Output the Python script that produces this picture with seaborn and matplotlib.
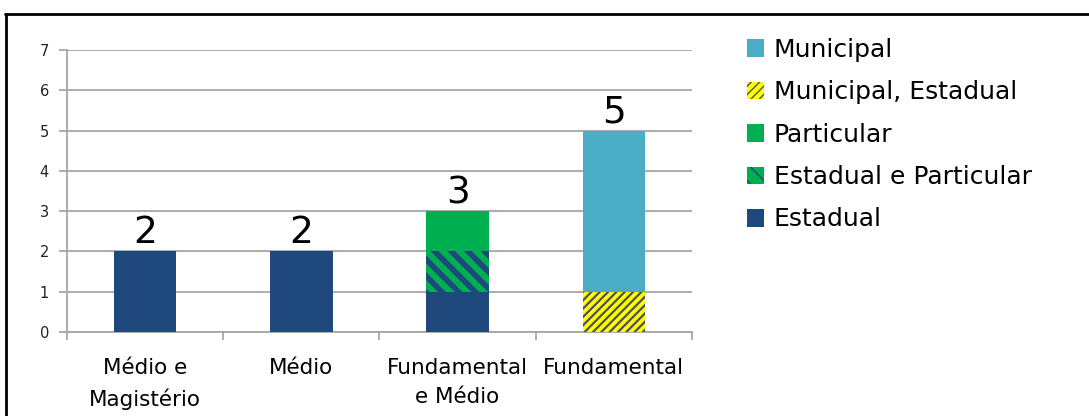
import seaborn as sns
import pandas as pd
import numpy as np
import matplotlib.pyplot as plt
from matplotlib.patches import Patch
from matplotlib.lines import Line2D

# data
categorias = ["Médio e\nMagistério", "Médio", "Fundamental\ne Médio", "Fundamental"]
estadual = [2, 2, 1, 0]
estadual_particular = [0, 0, 1, 0]
particular = [0, 0, 1, 0]
municipal_estadual = [0, 0, 0, 1]
municipal = [0, 0, 0, 4]

# layers from bottom to top: (label, values, color, hatch, hatch color, hatch width)
camadas = [
    ("Estadual", estadual, "#1f497d", None, None, 1),
    ("Estadual e Particular", estadual_particular, "#00b050", "\\\\", "#1f497d", 4.0),
    ("Particular", particular, "#00b050", None, None, 1),
    ("Municipal, Estadual", municipal_estadual, "#ffff00", "////", "#505050", 1.6),
    ("Municipal", municipal, "#4bacc6", None, None, 1),
]

sns.set_style("white")
plt.rcParams['font.family'] = ['DejaVu Sans']

fig = plt.figure(figsize=(10.89, 4.16), dpi=100)
ax = fig.add_axes([67/1089, 1 - 332/416, (692-67)/1089, (332-50)/416])

base = np.zeros(len(categorias))
for nome, vals, cor, hatch, hcor, hlw in camadas:
    df = pd.DataFrame({"cat": categorias, "v": vals})
    with plt.rc_context({'hatch.linewidth': hlw}):
        sns.barplot(data=df, x="cat", y="v", ax=ax, color=cor, saturation=1,
                    width=0.4, bottom=base, hatch=hatch,
                    edgecolor=hcor if hcor else cor, linewidth=0, zorder=3)
    base = base + np.array(vals)

# totals above bars
for i, t in enumerate(base):
    ax.text(i, t, f"{int(t)}", ha="center", va="bottom", fontsize=27, color="black", zorder=4)

ax.set_xlim(-0.5, 3.5)
ax.set_ylim(0, 7)
ax.set_yticks(range(0, 8))
ax.set_xlabel("")
ax.set_ylabel("")
ax.yaxis.grid(True, color="#a6a6a6", linewidth=1.3, zorder=0)
ax.set_axisbelow(True)
for s in ["top", "right"]:
    ax.spines[s].set_visible(False)
for s in ["left", "bottom"]:
    ax.spines[s].set_color("#a6a6a6")
    ax.spines[s].set_linewidth(1.3)
ax.tick_params(axis="y", length=6, width=1.3, color="#a6a6a6", pad=7,
               labelsize=10.5, labelcolor="#222222", left=True)
ax.set_xticks(np.arange(-0.5, 4, 1), minor=True)
ax.tick_params(axis="x", which="minor", length=6, width=1.3, color="#a6a6a6", bottom=True)
ax.tick_params(axis="x", which="major", length=0, pad=19, labelsize=15.5, labelcolor="black")
for lab in ax.get_xticklabels():
    lab.set_linespacing(1.55)

# legend
handles = []
for nome, vals, cor, hatch, hcor, hlw in reversed(camadas):
    handles.append(Patch(facecolor=cor, hatch=hatch, edgecolor=hcor if hcor else cor,
                         linewidth=0, label=nome))
fig.legend(handles=handles, loc="upper left", bbox_to_anchor=(724/1089, 1 - 15/416),
           frameon=False, fontsize=18, labelcolor="black", handlelength=0.7,
           handleheight=0.7, handletextpad=0.4, labelspacing=0.74)

# frame around the figure
fig.add_artist(Line2D([5/1089, 1], [1 - 14/416, 1 - 14/416], color="black", linewidth=2))
fig.add_artist(Line2D([6/1089, 6/1089], [0, 1 - 14/416], color="black", linewidth=2))

plt.savefig("out.png", dpi=100)
